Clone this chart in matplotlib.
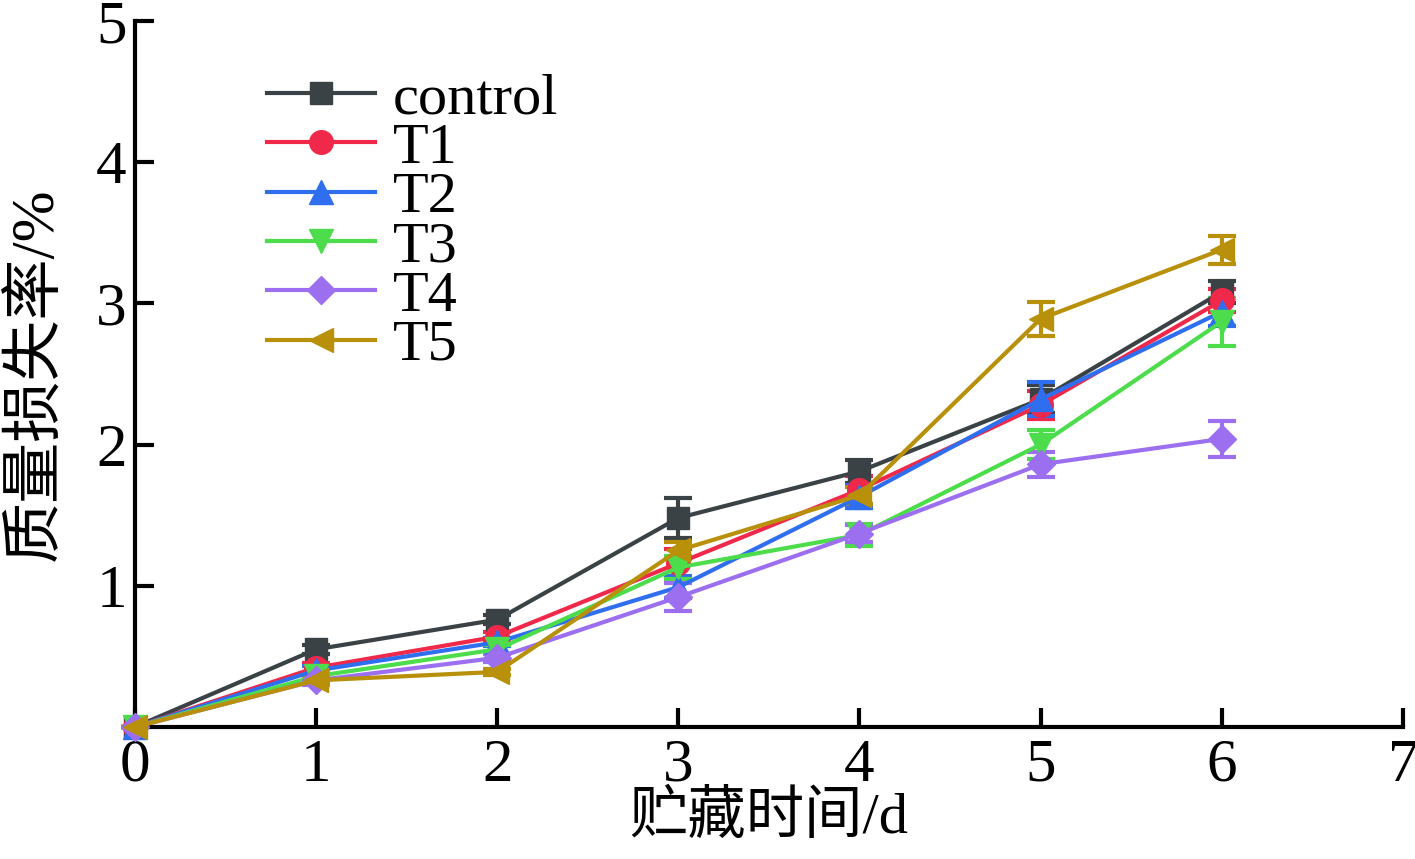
import numpy as np
import matplotlib.pyplot as plt
from matplotlib.lines import Line2D

plt.rcParams['font.family'] = ['Liberation Serif', 'Noto Sans CJK SC']

days = [0, 1, 2, 3, 4, 5, 6]
names = ['control', 'T1', 'T2', 'T3', 'T4', 'T5']

control = [0, 0.55, 0.76, 1.48, 1.81, 2.32, 3.08]
t1 = [0, 0.42, 0.64, 1.16, 1.68, 2.28, 3.02]
t2 = [0, 0.40, 0.60, 0.99, 1.63, 2.32, 2.94]
t3 = [0, 0.36, 0.55, 1.13, 1.36, 2.00, 2.87]
t4 = [0, 0.33, 0.49, 0.92, 1.37, 1.86, 2.04]
t5 = [0, 0.33, 0.39, 1.25, 1.64, 2.89, 3.38]

control_err = [0, 0.03, 0.03, 0.14, 0.08, 0.10, 0.08]
t1_err = [0, 0.03, 0.03, 0.10, 0.10, 0.10, 0.08]
t2_err = [0, 0.03, 0.03, 0.08, 0.08, 0.12, 0.10]
t3_err = [0, 0.03, 0.03, 0.08, 0.08, 0.10, 0.17]
t4_err = [0, 0.03, 0.03, 0.10, 0.06, 0.09, 0.13]
t5_err = [0, 0.02, 0.02, 0.06, 0.06, 0.12, 0.10]

series = [control, t1, t2, t3, t4, t5]
errs = [control_err, t1_err, t2_err, t3_err, t4_err, t5_err]
colors = ['#3a4245', '#f0284a', '#2f6fef', '#4cdc4c', '#9b6ff0', '#b8900a']
markers = ['s', 'o', '^', 'v', 'D', '<']
msizes = [16, 17, 17, 17, 14, 17]

fig = plt.figure(figsize=(14.15, 8.59), dpi=100)
ax = fig.add_axes([0.0954, 0.1537, 0.896, 0.822])

handles = []
for y, e, c, m, ms, lab in zip(series, errs, colors, markers, msizes, names):
    ax.errorbar(days, y, yerr=e, color=c, marker=m, markersize=ms, lw=3,
                elinewidth=3, capsize=10, capthick=3, clip_on=False, zorder=3)
    handles.append(Line2D([], [], color=c, marker=m, markersize=ms, lw=3, label=lab))

ax.set_xlim(0, 7)
ax.set_ylim(0, 5)
ax.set_xticks([0, 1, 2, 3, 4, 5, 6, 7])
ax.set_yticks([1, 2, 3, 4, 5])
for s in ['top', 'right']:
    ax.spines[s].set_visible(False)
for s in ['left', 'bottom']:
    ax.spines[s].set_linewidth(3)
ax.tick_params(direction='in', length=14, width=3, labelsize=44, pad=6)
ax.tick_params(axis='x', pad=8)
ax.set_xlabel('贮藏时间/d', fontsize=42, labelpad=-2)
ax.set_ylabel('质量损失率/%', fontsize=44, labelpad=22)

ax.legend(handles=handles, loc='upper left', bbox_to_anchor=(0.086, 0.96), frameon=False,
          fontsize=42, handlelength=1.85, handletextpad=0.3, labelspacing=-0.06,
          borderaxespad=0)

fig.savefig('out.png', dpi=100)
